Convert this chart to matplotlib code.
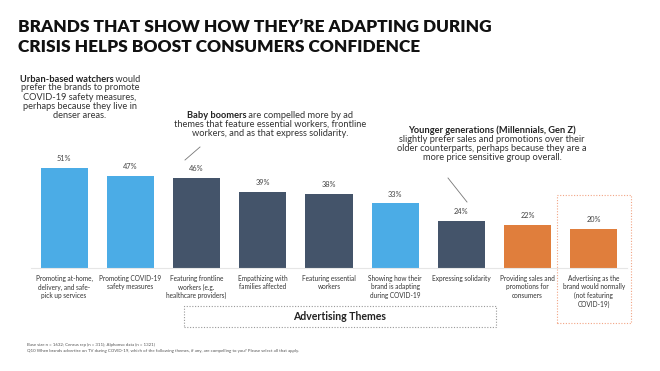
import matplotlib
matplotlib.use("Agg")
import matplotlib.pyplot as plt
from matplotlib.patches import Rectangle
from matplotlib.lines import Line2D

# chart data
categories = [
    "Promoting at-home,\ndelivery, and safe-\npick up services",
    "Promoting COVID-19\nsafety measures",
    "Featuring frontline\nworkers (e.g.\nhealthcare providers)",
    "Empathizing with\nfamilies affected",
    "Featuring essential\nworkers",
    "Showing how their\nbrand is adapting\nduring COVID-19",
    "Expressing solidarity",
    "Providing sales and\npromotions for\nconsumers",
    "Advertising as the\nbrand would normally\n(not featuring\nCOVID-19)",
]
values = [51, 47, 46, 39, 38, 33, 24, 22, 20]
groups = ["blue", "blue", "navy", "navy", "navy", "blue", "navy", "orange", "orange"]

palette = {"blue": "#4BACE6", "navy": "#44546A", "orange": "#E07E3C"}
plt.rcParams["font.family"] = ["Lato", "DejaVu Sans"]

W, H = 660, 371
fig = plt.figure(figsize=(W / 100, H / 100), dpi=100)


def px(x, y):
    """pixel coords (top-left origin) -> figure fraction"""
    return x / W, 1 - y / H


# bar axes: x from 31 to 627 px, y zero at 268 px, 1.96 px per %
ax = fig.add_axes([31 / W, (H - 268) / H, 596 / W, 117.6 / H])
xs = list(range(len(values)))
bars = ax.bar(xs, values, width=0.71, color=[palette[g] for g in groups], zorder=2)
ax.set_xlim(-0.5, len(values) - 0.5)
ax.set_ylim(0, 60)
for s in ["top", "right", "left"]:
    ax.spines[s].set_visible(False)
ax.spines["bottom"].set_color("#E6E6E6")
ax.spines["bottom"].set_linewidth(0.8)
ax.set_yticks([])
ax.set_xticks(xs)
ax.set_xticklabels(categories, fontsize=4.7, color="#333333", linespacing=1.25)
ax.tick_params(axis="x", length=0, pad=5)
for b, v in zip(bars, values):
    ax.annotate(f"{v}%", (b.get_x() + b.get_width() / 2, v), xytext=(0, 4),
                textcoords="offset points", ha="center", va="bottom",
                fontsize=5.3, color="#444444")

# title
fig.text(*px(18, 19), "BRANDS THAT SHOW HOW THEY\u2019RE ADAPTING DURING\n"
         "CRISIS HELPS BOOST CONSUMERS CONFIDENCE",
         ha="left", va="top", fontsize=12.4, fontweight="heavy",
         color="#111111", linespacing=1.3)


def rich_line(x, y, bold, normal, size):
    """centered line with a bold lead followed by normal text"""
    t1 = fig.text(*px(x, y), bold, fontsize=size, fontweight="bold",
                  color="#222222", ha="left", va="center")
    t2 = fig.text(*px(x, y), normal, fontsize=size, color="#333333",
                  ha="left", va="center")
    r = fig.canvas.get_renderer()
    w1 = t1.get_window_extent(r).width
    w2 = t2.get_window_extent(r).width
    x0 = x - (w1 + w2) / 2
    t1.set_position(px(x0, y))
    t2.set_position(px(x0 + w1, y))


def plain_lines(x, y0, lines, size, step):
    for i, line in enumerate(lines):
        fig.text(*px(x, y0 + i * step), line, fontsize=size, color="#333333",
                 ha="center", va="center")


fs = 6.7
# annotation 1
rich_line(80, 79, "Urban-based watchers", " would", fs)
plain_lines(80, 88, ["prefer the brands to promote", "COVID-19 safety measures,",
                     "perhaps because they live in", "denser areas."], fs, 9.2)

# annotation 2
rich_line(270, 115, "Baby boomers", " are compelled more by ad", fs)
plain_lines(270, 124, ["themes that feature essential workers, frontline",
                       "workers, and as that express solidarity."], fs, 9.2)
fig.add_artist(Line2D([185 / W, 200 / W], [1 - 160 / H, 1 - 147 / H],
                      color="#777777", lw=0.6))

# annotation 3
rich_line(492, 130, "Younger generations (Millennials, Gen Z)", "", fs)
plain_lines(492, 139, ["slightly prefer sales and promotions over their",
                       "older counterparts, perhaps because they are a",
                       "more price sensitive group overall."], fs, 9.2)
fig.add_artist(Line2D([448 / W, 467 / W], [1 - 178 / H, 1 - 202 / H],
                      color="#777777", lw=0.6))

# dotted frame around last bar
fig.add_artist(Rectangle(px(557, 323), 74 / W, 128 / H, fill=False,
                         edgecolor="#F2A585", lw=0.8, ls=(0, (1, 1.5))))

# axis title box
fig.add_artist(Rectangle(px(184, 327), 312 / W, 21 / H, fill=False,
                         edgecolor="#999999", lw=0.8, ls=(0, (1, 1.5))))
fig.text(*px(340, 317), "Advertising Themes", fontsize=7.6, fontweight="bold",
         color="#222222", ha="center", va="center")

# footnote
fig.text(*px(27, 345), "Base size n = 1632; Census rep (n = 311); Alphonso data (n = 1321)",
         fontsize=3.2, color="#555555", ha="left", va="center")
fig.text(*px(27, 351), "Q10 When brands advertise on TV during COVID-19, which of the following "
         "themes, if any, are compelling to you? Please select all that apply.",
         fontsize=3.2, color="#555555", ha="left", va="center")

fig.savefig("out.png", dpi=100)
